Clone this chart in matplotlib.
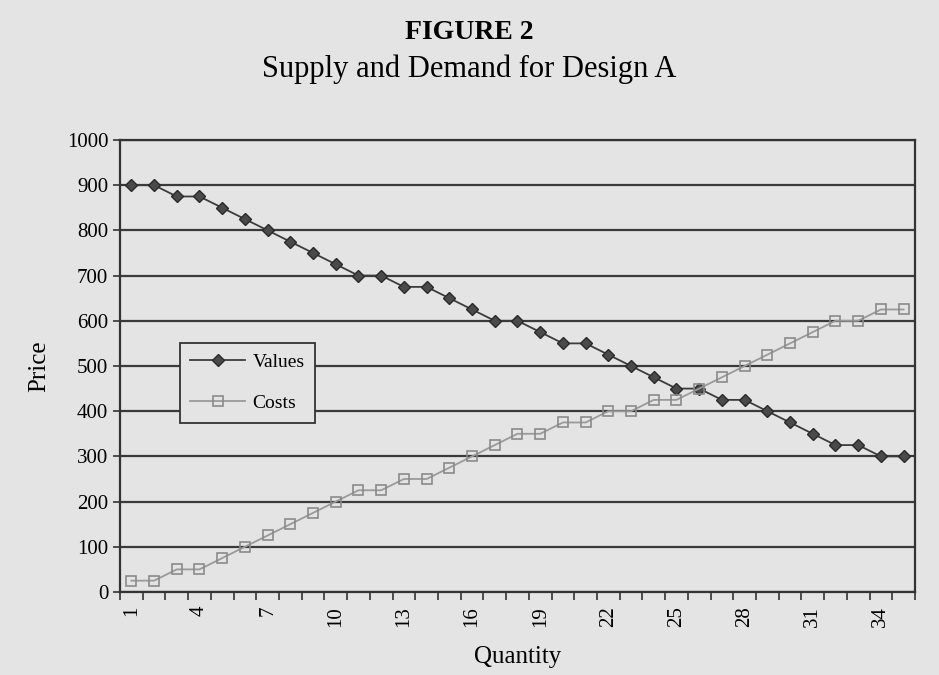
import matplotlib.pyplot as plt
import numpy as np

plt.rcParams['font.family'] = ['Liberation Serif', 'DejaVu Serif']

quantity = list(range(1, 36))
values = [900, 900, 875, 875, 850, 825, 800, 775, 750, 725, 700, 700,
          675, 675, 650, 625, 600, 600, 575, 550, 550, 525, 500, 475,
          450, 450, 425, 425, 400, 375, 350, 325, 325, 300, 300]
costs = [25, 25, 50, 50, 75, 100, 125, 150, 175, 200, 225, 225,
         250, 250, 275, 300, 325, 350, 350, 375, 375, 400, 400, 425,
         425, 450, 475, 500, 525, 550, 575, 600, 600, 625, 625]
x_labels = list(range(1, 36, 3))
y_ticks = list(range(0, 1001, 100))

bg = '#e4e4e4'
fig = plt.figure(figsize=(9.39, 6.75), dpi=100, facecolor=bg)
ax = fig.add_axes([0.1278, 0.123, 0.8466, 0.6696], facecolor=bg)

# gridlines
for y in y_ticks:
    ax.axhline(y, color='#3a3a3a', lw=1.6, zorder=1)

ax.plot(quantity, values, color='#3c3c3c', lw=1.3, marker='D', ms=6.5,
        mfc='#4a4a4a', mec='#2a2a2a', label='Values', zorder=3)
ax.plot(quantity, costs, color='#9a9a9a', lw=1.3, marker='s', ms=7,
        mfc='none', mec='#8a8a8a', mew=1.2, label='Costs', zorder=3)

ax.set_xlim(0.5, 35.5)
ax.set_ylim(0, 1000)
ax.set_yticks(y_ticks)
ax.set_xticks(x_labels)
ax.set_xticklabels([str(v) for v in x_labels], rotation=90, fontsize=15)
ax.set_xticks(np.arange(0.5, 36, 1), minor=True)
ax.tick_params(axis='x', which='major', length=0, pad=10)
ax.tick_params(axis='x', which='minor', length=6, width=1.2, color='#333')
ax.tick_params(axis='y', length=5, width=1.2, color='#333', labelsize=15)
for s in ax.spines.values():
    s.set_color('#333')
    s.set_linewidth(1.6)

ax.set_xlabel('Quantity', fontsize=18, labelpad=14)
ax.set_ylabel('Price', fontsize=18, labelpad=12)

leg = ax.legend(loc='lower left', bbox_to_anchor=(0.075, 0.374), fontsize=14,
                frameon=True, fancybox=False, facecolor=bg, edgecolor='#333',
                framealpha=1, borderpad=0.55, labelspacing=1.2, handlelength=2.8,
                handletextpad=0.4, borderaxespad=0)
leg.get_frame().set_linewidth(1.3)

fig.text(0.5, 0.952, 'FIGURE 2', ha='center', va='center', fontsize=20,
         fontweight='bold')
fig.text(0.5, 0.897, 'Supply and Demand for Design A', ha='center',
         va='center', fontsize=22)

fig.savefig('out.png', dpi=100, facecolor=bg)
